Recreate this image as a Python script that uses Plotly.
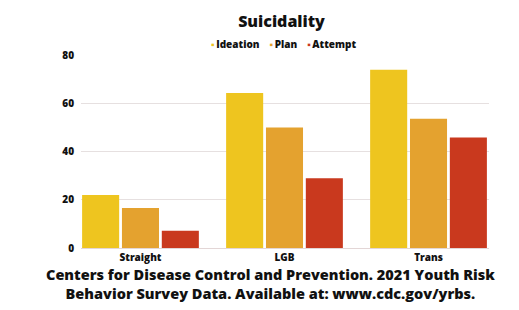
import plotly.graph_objects as go

categories = ["Straight", "LGB", "Trans"]
ideation = [22, 64.5, 74.2]
plan = [16.6, 50.1, 53.8]
attempt = [7.2, 29, 46]
series_names = ["Ideation", "Plan", "Attempt"]
colors = ["#EEC51F", "#E4A22F", "#C9391E"]
y_ticks = [0, 20, 40, 60, 80]

FONT = "Open Sans"
fig = go.Figure()
for name, vals, col in zip(series_names, [ideation, plan, attempt], colors):
    fig.add_trace(go.Bar(name=name, x=categories, y=vals, showlegend=False,
                         marker=dict(color=col, line=dict(width=0))))

fig.update_layout(
    width=519, height=310,
    margin=dict(l=81, r=30, t=55, b=62, autoexpand=False),
    paper_bgcolor="white", plot_bgcolor="white",
    barmode="group", bargap=0.17, bargroupgap=0.07,
    title=dict(text="Suicidality", x=281.5/519, xanchor="center", y=1 - 21/310, yanchor="middle",
               font=dict(family=FONT, size=16, color="#111", weight=800)),
    xaxis=dict(range=[-0.413, 2.42], showgrid=False, showline=True, linecolor="#E3D6D6", linewidth=1,
               tickfont=dict(family=FONT, size=10, color="#111", weight=800), ticks="", ticklen=0),
    yaxis=dict(range=[0, 80.3], tickvals=y_ticks, showgrid=True, gridcolor="#E6E0E0", gridwidth=1,
               zeroline=False, tickfont=dict(family=FONT, size=10, color="#111", weight=800),
               ticklabelstandoff=6),
    font=dict(family=FONT),
)

# legend drawn as text with coloured square marks
legend_text = "\u2003".join(
    f"<span style='color:{c}'>▪</span>\u2009{n}" for n, c in zip(series_names, colors))
fig.add_annotation(
    text=legend_text, xref="paper", yref="paper", x=(283 - 81) / 408, y=1 + 11 / 193,
    xanchor="center", yanchor="middle", showarrow=False,
    font=dict(family=FONT, size=10, color="#111", weight=800),
)
fig.add_annotation(
    text="Centers for Disease Control and Prevention. 2021 Youth Risk<br>Behavior Survey Data. Available at: www.cdc.gov/yrbs.",
    xref="paper", yref="paper", x=(270 - 81) / 408, y=-0.08, xanchor="center", yanchor="top",
    showarrow=False, align="center", font=dict(family=FONT, size=14.5, color="#111", weight=800),
)
fig.write_html("out.html")
